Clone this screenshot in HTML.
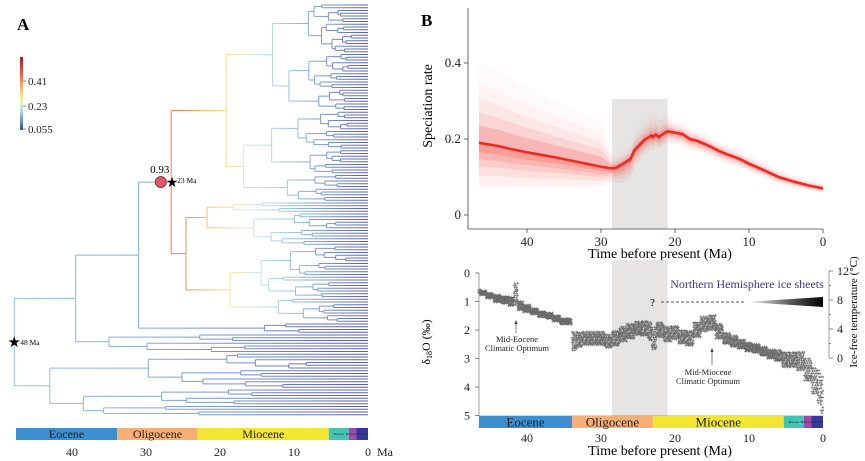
<!DOCTYPE html>
<html><head><meta charset="utf-8"><style>
html,body{margin:0;padding:0;background:#fff}
svg{display:block;font-family:"Liberation Serif",serif}
</style></head><body>
<svg id="fig" width="865" height="461" viewBox="0 0 865 461">
<defs>
<linearGradient id="gRed" gradientUnits="userSpaceOnUse" x1="150" y1="0" x2="368" y2="0">
<stop offset="0" stop-color="#e8604a"/><stop offset="0.15" stop-color="#f08a5a"/><stop offset="0.27" stop-color="#f8c070"/><stop offset="0.38" stop-color="#f7e79a"/><stop offset="0.5" stop-color="#c4e6ee"/><stop offset="0.7" stop-color="#8cb6dc"/><stop offset="1" stop-color="#5a5cb0"/>
</linearGradient>
<linearGradient id="gBlue" gradientUnits="userSpaceOnUse" x1="16" y1="0" x2="368" y2="0">
<stop offset="0" stop-color="#90c4e2"/><stop offset="0.4" stop-color="#82a8d8"/><stop offset="0.7" stop-color="#7088c8"/><stop offset="1" stop-color="#5a5aae"/>
</linearGradient>
<linearGradient id="gBar" x1="0" y1="0" x2="0" y2="1">
<stop offset="0" stop-color="#b2182b"/><stop offset="0.25" stop-color="#ef6548"/><stop offset="0.45" stop-color="#fdbf6f"/><stop offset="0.6" stop-color="#f7f4b0"/><stop offset="0.75" stop-color="#a6d8e8"/><stop offset="1" stop-color="#2c4ca0"/>
</linearGradient>
<linearGradient id="gWedge" x1="0" y1="0" x2="1" y2="0">
<stop offset="0" stop-color="#fff"/><stop offset="0.6" stop-color="#555"/><stop offset="1" stop-color="#000"/>
</linearGradient>
</defs>

<!-- Panel A -->
<text x="17" y="30" font-size="17" font-weight="bold">A</text>
<rect x="20" y="57" width="3" height="73" fill="url(#gBar)"/>
<g font-size="11" fill="#222">
<line x1="23" y1="81" x2="26" y2="81" stroke="#333" stroke-width="0.6"/><text x="28" y="85">0.41</text>
<line x1="23" y1="106" x2="26" y2="106" stroke="#333" stroke-width="0.6"/><text x="28" y="110">0.23</text>
<line x1="23" y1="129" x2="26" y2="129" stroke="#333" stroke-width="0.6"/><text x="28" y="133">0.055</text>
</g>
<g id="tree" fill="none" stroke-width="1"></g>
<g id="treeMarks"></g>
<g id="epochA"></g>
<g id="axisA" font-size="12" fill="#222"></g>

<!-- Panel B -->
<text x="421" y="26" font-size="17" font-weight="bold">B</text>
<rect id="shadeTop" fill="#e6e5e3"/>
<g id="band"></g>
<path id="rateLine" fill="none" stroke="#ee2a22" stroke-width="2.6"/>
<g id="axesTop" font-size="13" fill="#222"></g>
<text x="660" y="258" font-size="14" text-anchor="middle">Time before present (Ma)</text>
<text transform="translate(432,106) rotate(-90)" font-size="14" text-anchor="middle">Speciation rate</text>

<rect id="shadeBot" fill="#e6e5e3"/>
<path id="scatter" fill="none" stroke="#6a6a6a" stroke-width="0.7"/>
<g id="axesBot" font-size="12" fill="#222"></g>
<g id="epochB"></g>
<text x="660" y="455" font-size="14" text-anchor="middle">Time before present (Ma)</text>
<text transform="translate(430,342) rotate(-90)" font-size="12" text-anchor="middle">δ<tspan font-size="8" dy="2">18</tspan><tspan dy="-2">O (‰)</tspan></text>
<text transform="translate(857,312) rotate(-90)" font-size="11" text-anchor="middle">Ice-free temperature (°C)</text>
<text x="747" y="288" font-size="12" fill="#3a3a8c" text-anchor="middle">Northern Hemisphere ice sheets</text>
<text x="650" y="306" font-size="11">?</text>
<line x1="661" y1="302" x2="745" y2="302" stroke="#222" stroke-width="0.8" stroke-dasharray="3,2"/>
<polygon points="745,302 823,297 823,307" fill="url(#gWedge)"/>
<g font-size="8.5" text-anchor="middle" fill="#222">
<line x1="516" y1="333" x2="516" y2="322" stroke="#333" stroke-width="0.6"/><path d="M514.5,324 L516,320 L517.5,324Z" fill="#333"/>
<text x="517" y="342">Mid-Eocene</text><text x="517" y="351">Climatic Optimum</text></g>
<g font-size="8.5" text-anchor="middle" fill="#222">
<line x1="712" y1="365" x2="712" y2="350" stroke="#333" stroke-width="0.6"/><path d="M710.5,352 L712,348 L713.5,352Z" fill="#333"/>
<text x="708" y="375">Mid-Miocene</text><text x="708" y="384">Climatic Optimum</text></g>
</svg>
<script>
// ---------- data ----------
const rateTimes=[46.5,44,42,40,38,36,34,32,30,29,28.5,28,27,26.2,26,25.5,25,24.5,24,23.5,23.2,23,22.6,22.2,22,21.5,21,20,19,18,17,16,15,14,13,12,11,10,8,6,4,2,0];
const rateValues=[0.19,0.182,0.173,0.165,0.158,0.151,0.143,0.135,0.127,0.124,0.123,0.124,0.135,0.145,0.148,0.17,0.18,0.19,0.2,0.205,0.21,0.205,0.212,0.205,0.208,0.215,0.22,0.217,0.213,0.2,0.195,0.187,0.178,0.168,0.16,0.153,0.145,0.135,0.118,0.1,0.088,0.078,0.07];
const spreadTimes=[46.5,40,35,30,28.5,27,26,25,23,21,20,15,10,5,0];
const spreadUp=[0.21,0.17,0.14,0.12,0.04,0.035,0.04,0.05,0.06,0.05,0.035,0.03,0.025,0.02,0.015];
const spreadDown=[0.115,0.09,0.07,0.05,0.035,0.05,0.05,0.04,0.035,0.03,0.03,0.025,0.02,0.015,0.012];
const rateTicks=[0,0.2,0.4];
const timeTicks=[40,30,20,10,0];
const d18Times=[46.5,46,45,44,43,42,41.5,41,40,39,38,37,36,35,34.2,33.6,33,32,31,30,29,28,27,26,25,24,23.3,23,22,21,20,19,18,17,16,15,14,13,12,11,10,9,8,7,6,5,4,3,2,1,0.5,0];
const d18Values=[0.65,0.7,0.8,0.9,0.95,1.0,0.75,1.15,1.25,1.35,1.45,1.5,1.6,1.7,1.7,2.4,2.35,2.3,2.3,2.3,2.4,2.3,2.15,2.05,1.95,1.95,2.05,2.3,2.0,2.15,2.1,2.25,2.3,2.0,1.8,1.75,2.05,2.3,2.4,2.5,2.6,2.65,2.75,2.85,2.9,3.05,3.05,3.1,3.4,3.8,4.0,4.3];
const d18Spread=[0.05,0.06,0.07,0.1,0.1,0.12,0.3,0.12,0.1,0.08,0.08,0.08,0.08,0.08,0.08,0.25,0.2,0.18,0.18,0.18,0.18,0.2,0.2,0.2,0.18,0.2,0.25,0.3,0.2,0.2,0.18,0.18,0.2,0.2,0.2,0.2,0.2,0.15,0.15,0.12,0.12,0.12,0.12,0.12,0.15,0.2,0.2,0.25,0.3,0.35,0.45,0.5];
const d18Ticks=[0,1,2,3,4,5];
const tempTicks=[0,4,8,12];
const epochNames=["Eocene","Oligocene","Miocene","Pliocene","Pleistocene","Holocene"];
const epochStart=[46.5,33.9,23,5.3,2.6,1.6];
const epochEnd=[33.9,23,5.3,2.6,1.6,0];
const epochColors=["#3d8fd0","#f7ae74","#f2e632","#43c3b2","#a24aa8","#3a36a0"];
const shadeStart=28.5, shadeEnd=21;
const treeRootAge=47.8, treeNodeAge=39.5, redParentAge=31, redCladeAge=26.6;

const NS="http://www.w3.org/2000/svg";
function mk(tag,attrs,parent){const e=document.createElementNS(NS,tag);for(const k in attrs)e.setAttribute(k,attrs[k]);parent.appendChild(e);return e;}
function interp(ts,vs,t){for(let i=0;i<ts.length-1;i++){if(t<=ts[i]&&t>=ts[i+1]){const f=(ts[i]-t)/(ts[i]-ts[i+1]);return vs[i]+f*(vs[i+1]-vs[i]);}}return t>ts[0]?vs[0]:vs[vs.length-1];}

// ---------- axis functions ----------
const xB=t=>823-t*7.4;
const yRate=v=>215-v*380;
const yD18=v=>273+v*28.5;
const yTemp=v=>358-v*(358-271)/12;
const xA=t=>368-t*7.4;

// ---------- panel B top ----------
const sT=document.getElementById('shadeTop');
sT.setAttribute('x',xB(shadeStart));sT.setAttribute('y',99);sT.setAttribute('width',xB(shadeEnd)-xB(shadeStart));sT.setAttribute('height',130);
const band=document.getElementById('band');
const fracs=[1,0.75,0.55,0.38,0.22];
const opsUp=[0.025,0.04,0.06,0.1,0.18];
const opsDn=[0.07,0.09,0.11,0.15,0.2];
fracs.forEach((fr,k)=>{
  let up=[],mid=[],dn=[];
  rateTimes.forEach((t,i)=>{
    up.push(xB(t)+','+yRate(rateValues[i]+fr*interp(spreadTimes,spreadUp,t)));
    mid.unshift(xB(t)+','+yRate(rateValues[i]));
    dn.push(xB(t)+','+yRate(rateValues[i]-fr*interp(spreadTimes,spreadDown,t)));
  });
  const p=mk('polygon',{points:up.concat(mid).join(' '),fill:'#f03a30','fill-opacity':opsUp[k]},band);
  
  
  const q=mk('polygon',{points:dn.concat(mid).join(' '),fill:'#f03a30','fill-opacity':opsDn[k]},band);
  
  
});
document.getElementById('rateLine').setAttribute('d',rateTimes.map((t,i)=>(i?'L':'M')+xB(t)+','+yRate(rateValues[i])).join(''));
const aT=document.getElementById('axesTop');
mk('line',{x1:468,y1:8,x2:468,y2:229,stroke:'#444','stroke-width':0.8},aT);
mk('line',{x1:468,y1:229,x2:823,y2:229,stroke:'#444','stroke-width':0.8},aT);
rateTicks.forEach(v=>{mk('line',{x1:464,y1:yRate(v),x2:468,y2:yRate(v),stroke:'#444','stroke-width':0.8},aT);
  const t=mk('text',{x:461,y:yRate(v)+4,'text-anchor':'end'},aT);t.textContent=v===0?'0':v.toFixed(1);
  });
timeTicks.forEach(v=>{mk('line',{x1:xB(v),y1:229,x2:xB(v),y2:233,stroke:'#444','stroke-width':0.8},aT);
  const t=mk('text',{x:xB(v),y:246,'text-anchor':'middle'},aT);t.textContent=v;
  });

// ---------- panel B bottom ----------
const sB=document.getElementById('shadeBot');
sB.setAttribute('x',xB(shadeStart));sB.setAttribute('y',260);sB.setAttribute('width',xB(shadeEnd)-xB(shadeStart));sB.setAttribute('height',156);
const pattern=[-1,0.1,0.8,-0.4,0.5,-0.8,0.95,-0.1,0.3,-0.6,0.65,-0.25];
let sd='',pc=0;
d18Times.forEach((t,i)=>{
  const a=i===0?t:(t+d18Times[i-1])/2, b=i===d18Times.length-1?t:(t+d18Times[i+1])/2;
  for(let tt=a;tt>=b-1e-6;tt-=0.12){
    for(let r=0;r<5;r++){
      const off=pattern[(pc++)%pattern.length]*1.3;
      const x=xB(tt), y=yD18(d18Values[i]+off*d18Spread[i]);
      sd+='M'+(x-1.3).toFixed(1)+','+y.toFixed(1)+'h2.6M'+x.toFixed(1)+','+(y-1.3).toFixed(1)+'v2.6';
    }
  }
});
document.getElementById('scatter').setAttribute('d',sd);
const aB=document.getElementById('axesBot');
mk('line',{x1:479,y1:273,x2:479,y2:416,stroke:'#888','stroke-width':0.8},aB);
mk('line',{x1:829,y1:271,x2:829,y2:358,stroke:'#888','stroke-width':0.8},aB);
mk('line',{x1:479,y1:416,x2:823,y2:416,stroke:'#888','stroke-width':0.8},aB);
d18Ticks.forEach(v=>{mk('line',{x1:475,y1:yD18(v),x2:479,y2:yD18(v),stroke:'#666','stroke-width':0.8},aB);
  const t=mk('text',{x:470,y:yD18(v)+4,'text-anchor':'end'},aB);t.textContent=v;
  });
[0,2,4,6,8,10,12].forEach(v=>{mk('line',{x1:829,y1:yTemp(v),x2:v%4===0?833:831,y2:yTemp(v),stroke:'#666','stroke-width':0.8},aB);});
tempTicks.forEach(v=>{const t=mk('text',{x:837,y:yTemp(v)+4},aB);t.textContent=v;
  });
function epochBar(g,x,y0,h,big){
  epochNames.forEach((n,i)=>{
    const r=mk('rect',{x:x(epochStart[i]),y:y0,width:x(epochEnd[i])-x(epochStart[i]),height:h,fill:epochColors[i]},g);
    
    const w=x(epochEnd[i])-x(epochStart[i]);
    const fs=w>40?big:3;
    const t=mk('text',{x:(x(epochStart[i])+x(epochEnd[i]))/2,y:y0+h/2+fs*0.35,'text-anchor':'middle','font-size':fs,fill:'#222'},g);
    t.textContent=n;
  });
}
epochBar(document.getElementById('epochB'),xB,416,12,13);
timeTicks.forEach(v=>{const t=mk('text',{x:xB(v),y:442,'text-anchor':'middle','font-size':12},aB);t.textContent=v;
  });

// ---------- panel A tree ----------
let seq=0;
function frac(){seq++;return (seq*0.6180339887+0.13)%1;}
function build(lo,hi,age,red){
  if(lo===hi)return {tip:lo,age:0,red};
  const n=hi-lo+1;
  const f=0.25+0.5*frac();
  const m=lo+Math.max(0,Math.min(n-2,Math.floor(n*f)-1));
  const a1=age*(0.6+0.33*frac()), a2=age*(0.6+0.33*frac());
  return {age,red,kids:[build(lo,m,a1,red),build(m+1,hi,a2,red)]};
}
const tipY=i=>5+i*2.75;
const redClade=build(0,115,redCladeAge,true);
const b1=build(116,119,14,false);
const n140={age:redParentAge,red:false,kids:[redClade,b1]};
const b2=build(120,126,35,false);
const n72={age:treeNodeAge,red:false,kids:[n140,b2]};
const lower=build(127,149,43,false);
const root={age:treeRootAge,red:false,kids:[n72,lower]};
const tg=document.getElementById('tree');
let pathRed='',pathBlue='';
function layout(nd){
  if(nd.tip!==undefined){nd.y=tipY(nd.tip);return nd.y;}
  const ys=nd.kids.map(layout);nd.y=(ys[0]+ys[1])/2;
  const x=xA(nd.age);
  let v='M'+x+','+ys[0]+'V'+ys[1];
  nd.kids.forEach(k=>{const h='M'+x+','+k.y+'H'+xA(k.age);
    if(k.red && nd.red)pathRed+=h;else pathBlue+=h;});
  if(nd.red)pathRed+=v;else pathBlue+=v;
  return nd.y;
}
layout(root);
pathBlue+='M'+xA(treeRootAge)+','+root.y+'H'+(xA(treeRootAge)-2);
mk('path',{d:pathBlue,stroke:'url(#gBlue)'},tg);
mk('path',{d:pathRed,stroke:'url(#gRed)'},tg);
const tm=document.getElementById('treeMarks');
const c=mk('circle',{cx:xA(28),cy:redClade.y,r:5.5,fill:'#e05868',stroke:'#8a2030','stroke-width':0.8},tm);

const t1=mk('text',{x:xA(28)-1,y:redClade.y-9,'font-size':11,'text-anchor':'middle'},tm);t1.textContent='0.93';
const s1=mk('text',{x:xA(redCladeAge)+1,y:redClade.y+5,'font-size':14,'text-anchor':'middle'},tm);s1.textContent='★';
const t2=mk('text',{x:xA(redCladeAge)+6,y:redClade.y+1,'font-size':7.5},tm);t2.textContent='23 Ma';
const s2=mk('text',{x:xA(treeRootAge),y:root.y+5,'font-size':15,'text-anchor':'middle'},tm);s2.textContent='★';
const t3=mk('text',{x:xA(treeRootAge)+6,y:root.y+3,'font-size':7.5},tm);t3.textContent='48 Ma';
epochBar(document.getElementById('epochA'),t=>t===46.5?16:xA(t),428,12,12);
const aA=document.getElementById('axisA');
timeTicks.forEach(v=>{const t=mk('text',{x:xA(v),y:456,'text-anchor':'middle'},aA);t.textContent=v;
  });
const ma=mk('text',{x:377,y:456},aA);ma.textContent='Ma';
</script>
</body></html>
